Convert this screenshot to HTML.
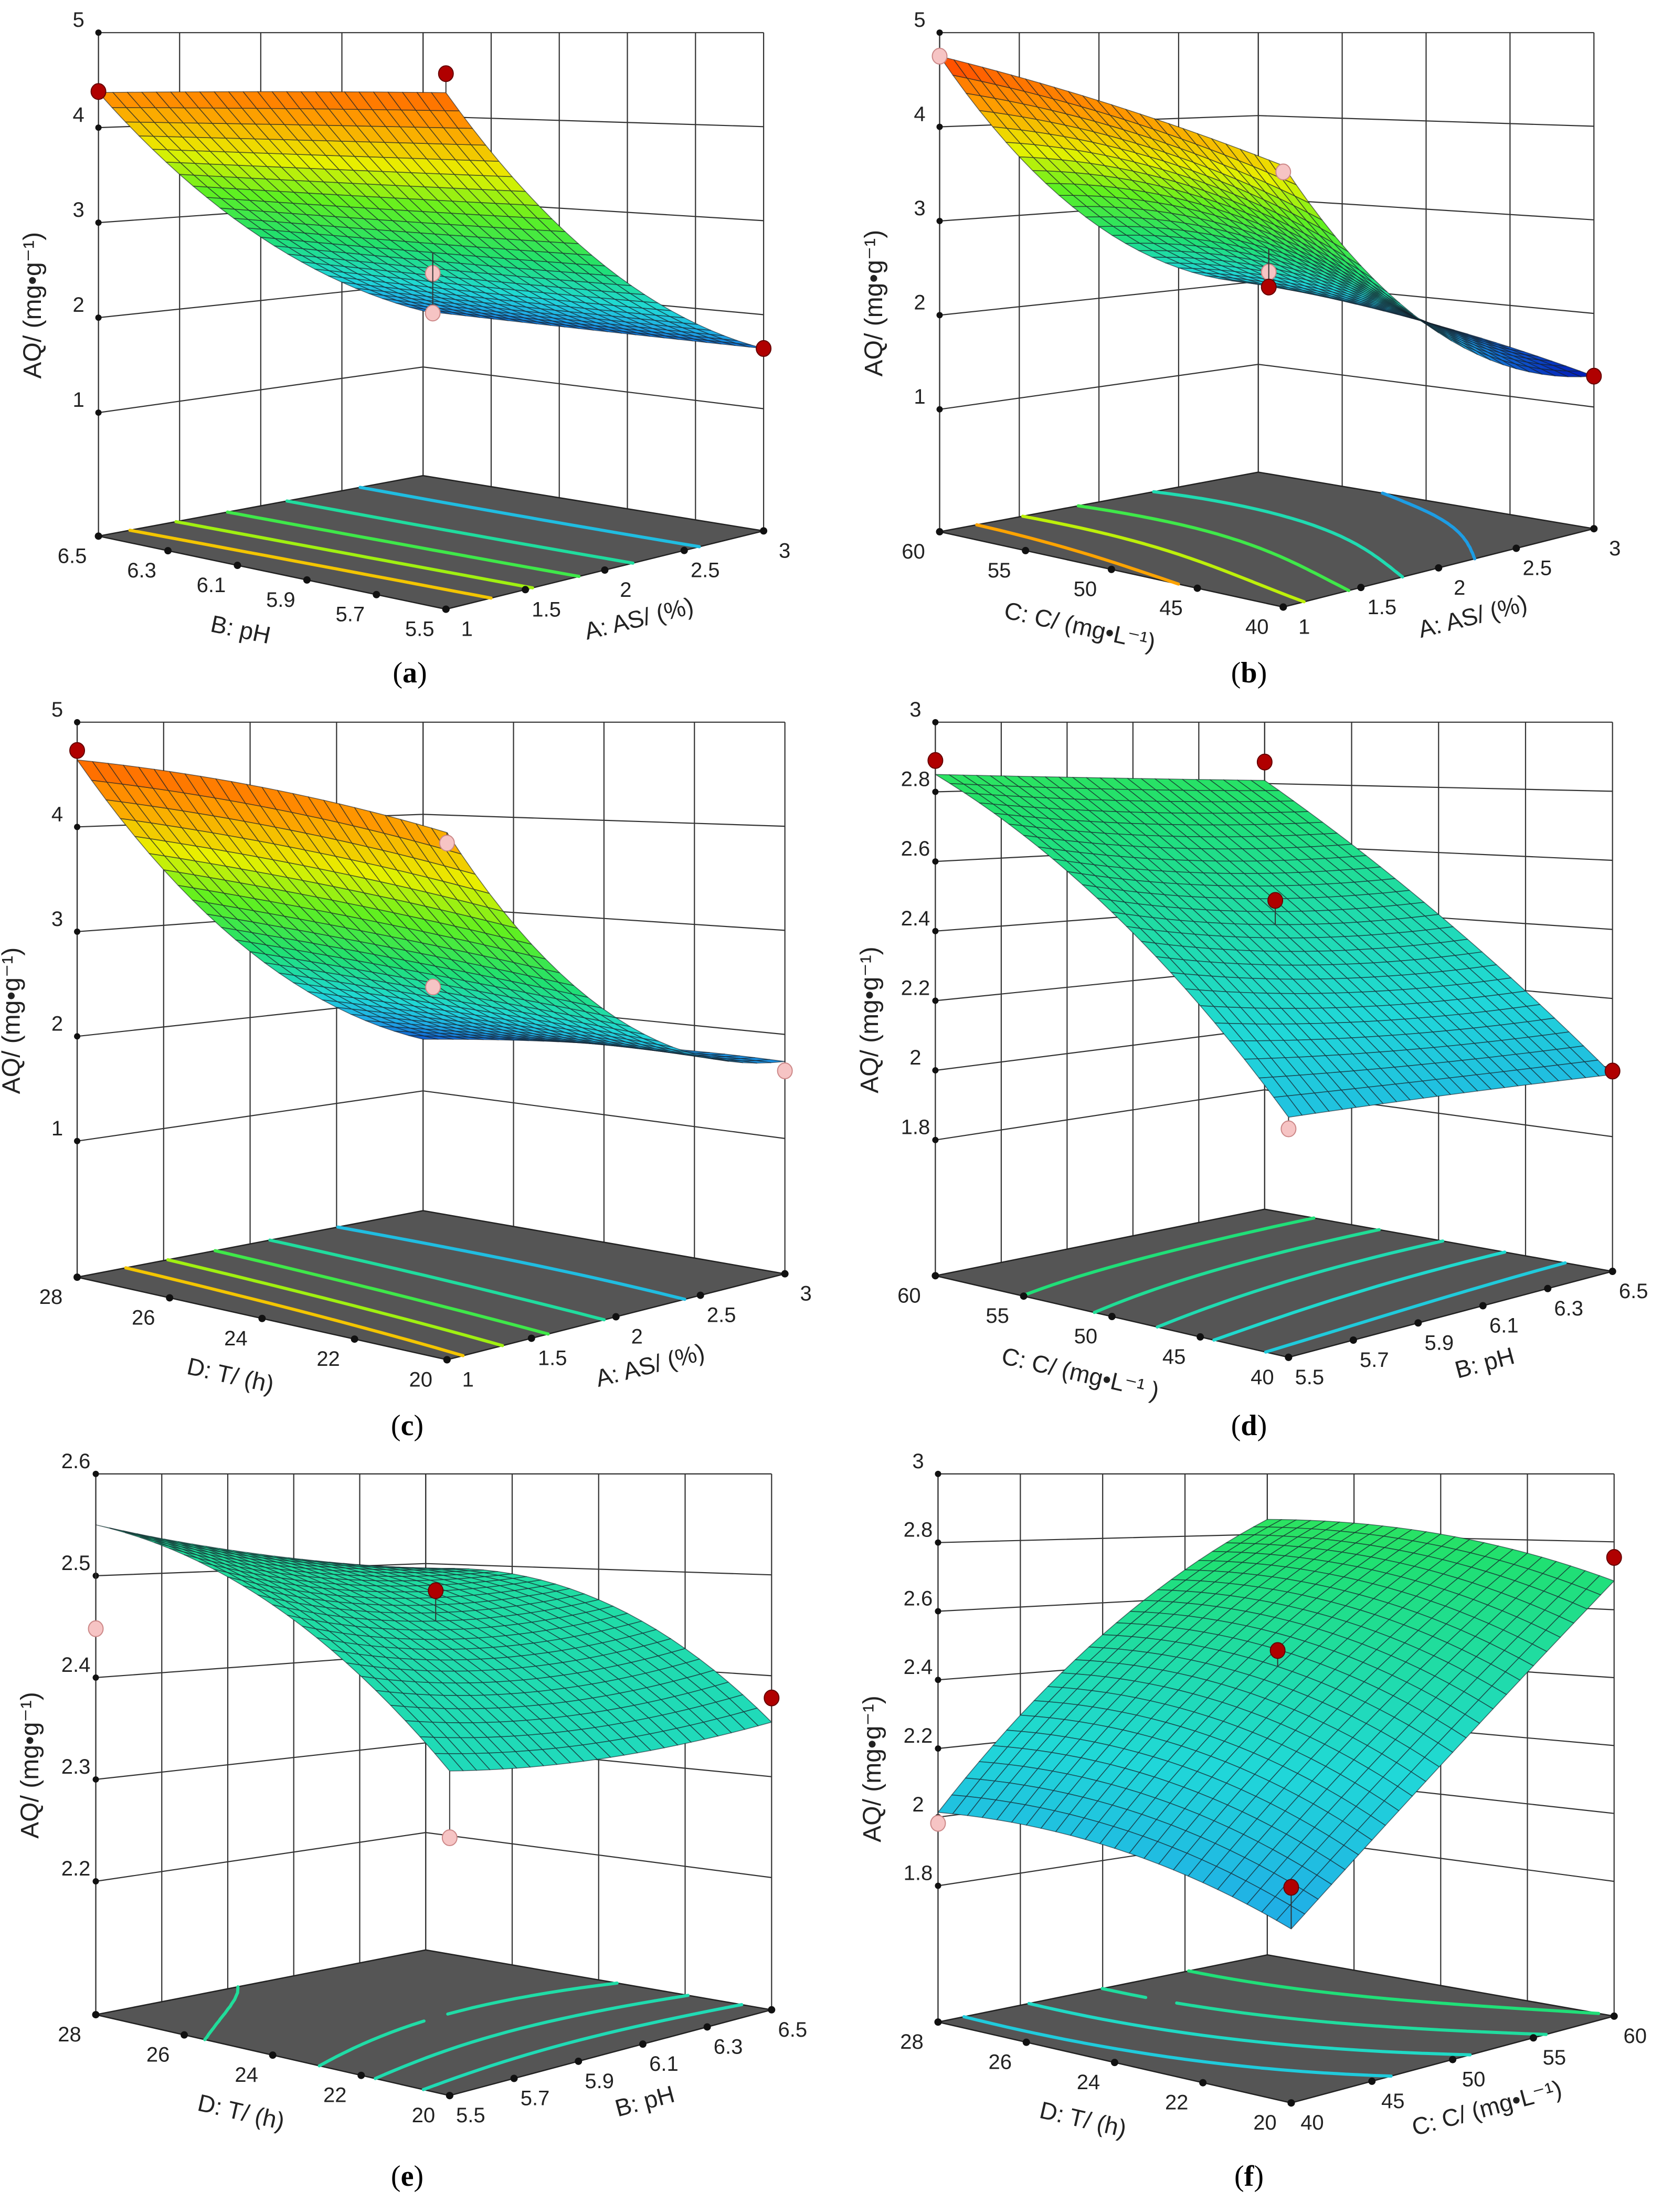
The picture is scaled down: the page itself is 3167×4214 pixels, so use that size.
<!DOCTYPE html>
<html><head><meta charset="utf-8"><style>
html,body{margin:0;padding:0;background:#fff;}
svg{display:block;}
text{font-family:"Liberation Sans",sans-serif;fill:#222;}
.cap{font-family:"Liberation Serif",serif;font-size:56px;fill:#000;}
</style></head><body>
<svg id="chart" width="3167" height="4214" viewBox="0 0 3167 4214" xmlns="http://www.w3.org/2000/svg">
<rect x="0" y="0" width="3167" height="4214" fill="#fff"/>
</svg>
<script>
// ---------- DATA (per panel) ----------
// panel a: A (AS %) vs B (pH)
const aU=[1,1.5,2,2.5,3]; const aV=[5.5,5.7,5.9,6.1,6.3,6.5]; const aZt=[1,2,3,4,5];
const aGrid=[[4.6,4.5,4.37],[2.75,2.72,2.71],[1.64,1.65,1.67]];
const aDots=[[1,6.5,4.38,'r'],[1,5.5,4.78,'r'],[2,6,2.5,'p'],[2,6,2.08,'p'],[3,5.5,1.64,'r']];
const aLevels=[2.0,2.5,3.0,3.5,4.0];
// panel b: A vs C
const bU=[1,1.5,2,2.5,3]; const bV=[40,45,50,55,60]; const bZt=[1,2,3,4,5];
const bGrid=[[3.91,4.37,4.75],[2.07,2.75,2.81],[1.33,1.72,1.98]];
const bDots=[[1,60,4.75,'p'],[1,40,3.85,'p'],[2,50,2.5,'p'],[2,50,2.34,'r'],[3,40,1.33,'r']];
const bLevels=[1.8,2.4,3.0,3.6,4.2];
// panel c: A vs D
const cU=[1,1.5,2,2.5,3]; const cV=[20,22,24,26,28]; const cZt=[1,2,3,4,5];
const cGrid=[[4.22,4.5,4.64],[2.41,2.55,2.67],[1.74,1.72,1.56]];
const cDots=[[1,28,4.73,'r'],[1,20,4.13,'p'],[2,24,2.51,'p'],[3,20,1.65,'p']];
const cLevels=[2.0,2.5,3.0,3.5,4.0];
// panel d: B vs C
const dU=[5.5,5.7,5.9,6.1,6.3,6.5]; const dV=[40,45,50,55,60]; const dZt=[1.8,2,2.2,2.4,2.6,2.8,3];
const dGrid=[[2.03,2.51,2.85],[2.01,2.43,2.83],[1.98,2.41,2.81]];
const dDots=[[5.5,60,2.89,'r'],[6.5,60,2.87,'r'],[6,50,2.5,'r'],[5.5,40,2.0,'p'],[6.5,40,1.99,'r']];
const dLevels=[2.1,2.25,2.4,2.55,2.7];
// panel e: B vs D
const eU=[5.5,5.7,5.9,6.1,6.3,6.5]; const eV=[20,22,24,26,28]; const eZt=[2.2,2.3,2.4,2.5,2.6];
const eGrid=[[2.356,2.488,2.55],[2.345,2.46,2.516],[2.354,2.468,2.494]];
const eDots=[[5.5,28,2.448,'p'],[6,24,2.49,'r'],[6.5,20,2.378,'r'],[5.5,20,2.297,'p']];
const eLevels=[2.38,2.42,2.46,2.52];
// panel f: C vs D
const fU=[40,45,50,55,60]; const fV=[20,22,24,26,28]; const fZt=[1.8,2,2.2,2.4,2.6,2.8,3];
const fGrid=[[1.859,1.994,2.014],[2.255,2.45,2.501],[2.685,2.812,2.849]];
const fDots=[[40,28,1.982,'p'],[50,24,2.497,'r'],[40,20,1.968,'r'],[60,20,2.754,'r']];
const fLevels=[2.1,2.3,2.5,2.7];

// ---------- GEOMETRY (layout only) ----------
const panels=[
 {id:'a',off:[0,0],s:[1.014,0.829],F:[838,1400],L:[185,1232],R:[1435,1220],B:[795,1093],top:75,zf:-0.3,zt:5,
  U:aU,V:aV,Z:aZt,G:aGrid,D:aDots,LV:aLevels,uT:'A: AS/ (%)',vT:'B: pH',cap:[781,1282]},
 {id:'b',off:[1580,0],s:[1.012,0.829],F:[855,1395],L:[208,1222],R:[1440,1215],B:[808,1085],top:75,zf:-0.3,zt:5,
  U:bU,V:bV,Z:bZt,G:bGrid,D:bDots,LV:bLevels,uT:'A: AS/ (%)',vT:'C: C/ (mg\u2022L\u207B\u00B9)',cap:[2380,1282]},
 {id:'c',off:[0,1300],s:[1.014,0.925],F:[840,1395],L:[145,1225],R:[1475,1218],B:[795,1088],top:82,zf:-0.3,zt:5,
  U:cU,V:cV,Z:cZt,G:cGrid,D:cDots,LV:cLevels,uT:'A: AS/ (%)',vT:'D: T/ (h)',cap:[776,2716]},
 {id:'d',off:[1580,1300],s:[1.012,0.925],F:[865,1390],L:[200,1222],R:[1475,1213],B:[820,1085],top:82,zf:1.41,zt:3,
  U:dU,V:dV,Z:dZt,G:dGrid,D:dDots,LV:dLevels,uT:'B: pH',vT:'C: C/ (mg\u2022L\u207B\u00B9 )',cap:[2380,2716]},
 {id:'e',off:[0,2750],s:[1.014,0.934],F:[845,1330],L:[180,1165],R:[1450,1155],B:[800,1033],top:62,zf:2.069,zt:2.6,
  U:eU,V:eV,Z:eZt,G:eGrid,D:eDots,LV:eLevels,uT:'B: pH',vT:'D: T/ (h)',cap:[776,4146]},
 {id:'f',off:[1580,2750],s:[1.012,0.934],F:[870,1345],L:[205,1180],R:[1478,1168],B:[825,1043],top:62,zf:1.403,zt:3,
  U:fU,V:fV,Z:fZt,G:fGrid,D:fDots,LV:fLevels,uT:'C: C/ (mg\u2022L\u207B\u00B9)',vT:'D: T/ (h)',cap:[2380,4146]}
];

const NS='http://www.w3.org/2000/svg';
const svg=document.getElementById('chart');
function el(tag,attrs,parent){const e=document.createElementNS(NS,tag);for(const k in attrs)e.setAttribute(k,attrs[k]);(parent||svg).appendChild(e);return e;}
const stops=[[0,[0,16,176]],[0.08,[16,96,208]],[0.15,[32,168,232]],[0.25,[32,216,216]],[0.4,[32,224,112]],[0.55,[96,240,32]],[0.68,[232,240,0]],[0.82,[255,154,0]],[0.9,[255,112,0]],[1,[255,0,0]]];
function cmap(z){let t=(z-1.3)/(4.9-1.3);t=Math.max(0,Math.min(1,t));
 for(let i=1;i<stops.length;i++){if(t<=stops[i][0]){const a=stops[i-1],b=stops[i];const f=(t-a[0])/(b[0]-a[0]);
  const c=a[1].map((x,k)=>Math.round(x+(b[1][k]-x)*f));return 'rgb('+c.join(',')+')';}}return 'rgb(255,0,0)';}
function lag(t){return [2*(t-0.5)*(t-1),-4*t*(t-1),2*t*(t-0.5)];}
function surf(G,u,v){const a=lag(u),b=lag(v);let s=0;for(let i=0;i<3;i++)for(let j=0;j<3;j++)s+=a[i]*b[j]*G[i][j];return s;}
function pts(arr){return arr.map(p=>p[0].toFixed(1)+','+p[1].toFixed(1)).join(' ');}

panels.forEach(cfg=>{
 const g=el('g',{});
 
 
 const c=p=>[cfg.off[0]+p[0]*cfg.s[0],cfg.off[1]+p[1]*cfg.s[1]];
 const F=c(cfg.F),L=c(cfg.L),R=c(cfg.R),B=c(cfg.B);const topY=cfg.off[1]+cfg.top*cfg.s[1];
 const hL=L[1]-topY,hR=R[1]-topY,hB=B[1]-topY,hF=hL+hR-hB;
 const P=(u,v,z)=>{const w=[(1-u)*(1-v),u*(1-v),(1-u)*v,u*v];
  const x=w[0]*F[0]+w[1]*R[0]+w[2]*L[0]+w[3]*B[0];const fy=w[0]*F[1]+w[1]*R[1]+w[2]*L[1]+w[3]*B[1];
  const h=w[0]*hF+w[1]*hR+w[2]*hL+w[3]*hB;return [x,fy-(z-cfg.zf)/(cfg.zt-cfg.zf)*h];};
 const U=cfg.U,V=cfg.V;
 const su=x=>(x-U[0])/(U[U.length-1]-U[0]);const sv=x=>(x-V[0])/(V[V.length-1]-V[0]);
 const lineStyle={stroke:'#333','stroke-width':2.2,fill:'none'};
 // walls
 const walls=el('g',{},g);
 U.forEach(t=>{const a=P(su(t),1,cfg.zf),b=P(su(t),1,cfg.zt);const l=el('line',Object.assign({x1:a[0],y1:a[1],x2:b[0],y2:b[1]},lineStyle),walls);
  });
 V.forEach(t=>{const a=P(1,sv(t),cfg.zf),b=P(1,sv(t),cfg.zt);const l=el('line',Object.assign({x1:a[0],y1:a[1],x2:b[0],y2:b[1]},lineStyle),walls);
  });
 cfg.Z.forEach(z=>{const l=el('polyline',Object.assign({points:pts([P(0,1,z),P(1,1,z),P(1,0,z)])},lineStyle),walls);
  });
 const ax=el('line',Object.assign({x1:P(0,1,cfg.zf)[0],y1:P(0,1,cfg.zf)[1],x2:P(0,1,cfg.zt)[0],y2:P(0,1,cfg.zt)[1]},lineStyle),walls);
 
 // z ticks
 cfg.Z.forEach(z=>{const p=P(0,1,z);const d=el('circle',{cx:p[0],cy:p[1],r:6,fill:'#111'},g);
  
  const t=el('text',{x:p[0]-38,y:p[1]-24,'font-size':40,'text-anchor':'middle','dominant-baseline':'central'},g);t.textContent=String(z);
  });
 const zm=P(0,1,(cfg.zf+cfg.zt)/2);
 const zt=el('text',{x:zm[0]-125,y:zm[1]+40,'font-size':48,'text-anchor':'middle','dominant-baseline':'central',transform:'rotate(-90 '+(zm[0]-125)+' '+(zm[1]+40)+')'},g);
 zt.textContent='AQ/ (mg\u2022g\u207B\u00B9)';
 // floor
 const fl=el('polygon',{points:pts([P(0,0,cfg.zf),P(1,0,cfg.zf),P(1,1,cfg.zf),P(0,1,cfg.zf)]),fill:'#555',stroke:'#222','stroke-width':2.5},g);
 
 // contours
 const N=24;const grid=[];for(let i=0;i<=N;i++){grid.push([]);for(let j=0;j<=N;j++)grid[i].push(surf(cfg.G,i/N,j/N));}
 cfg.LV.forEach(lv=>{let d='';
  for(let i=0;i<N;i++)for(let j=0;j<N;j++){const cs=[[i,j],[i+1,j],[i+1,j+1],[i,j+1]];const ps=[];
   for(let k=0;k<4;k++){const a=cs[k],b=cs[(k+1)%4];const za=grid[a[0]][a[1]],zb=grid[b[0]][b[1]];
    if((za-lv)*(zb-lv)<0){const f=(lv-za)/(zb-za);ps.push(P((a[0]+(b[0]-a[0])*f)/N,(a[1]+(b[1]-a[1])*f)/N,cfg.zf));}}
   for(let k=0;k+1<ps.length;k+=2)d+='M'+ps[k][0].toFixed(1)+' '+ps[k][1].toFixed(1)+'L'+ps[k+1][0].toFixed(1)+' '+ps[k+1][1].toFixed(1);}
  const cl=el('path',{d:d,stroke:cmap(lv),'stroke-width':6,fill:'none','stroke-linecap':'round'},g);
  });
 // floor ticks
 V.forEach(t=>{const p=P(0,sv(t),cfg.zf);const d=el('circle',{cx:p[0],cy:p[1],r:7,fill:'#111'},g);
  
  const tx=el('text',{x:p[0]-50,y:p[1]+38,'font-size':40,'text-anchor':'middle','dominant-baseline':'central'},g);tx.textContent=String(t);
  });
 U.forEach(t=>{const p=P(su(t),0,cfg.zf);const d=el('circle',{cx:p[0],cy:p[1],r:7,fill:'#111'},g);
  
  const tx=el('text',{x:p[0]+40,y:p[1]+38,'font-size':40,'text-anchor':'middle','dominant-baseline':'central'},g);tx.textContent=String(t);
  });
 const angV=Math.atan2(F[1]-L[1],F[0]-L[0])*180/Math.PI;const angU=Math.atan2(R[1]-F[1],R[0]-F[0])*180/Math.PI;
 const mv=[(F[0]+L[0])/2-60,(F[1]+L[1])/2+108];const mu=[(F[0]+R[0])/2+65,(F[1]+R[1])/2+92];
 const tv=el('text',{x:mv[0],y:mv[1],'font-size':46,'text-anchor':'middle','dominant-baseline':'central',transform:'rotate('+angV.toFixed(1)+' '+mv[0]+' '+mv[1]+')'},g);
 tv.textContent=cfg.vT;
 const tu=el('text',{x:mu[0],y:mu[1],'font-size':46,'text-anchor':'middle','dominant-baseline':'central',transform:'rotate('+angU.toFixed(1)+' '+mu[0]+' '+mu[1]+')'},g);
 tu.textContent=cfg.uT;
 // surface
 const sg=el('g',{},g);
 for(let s=2*N-2;s>=0;s--){for(let i=0;i<N;i++){const j=s-i;if(j<0||j>=N)continue;
  const q=[P(i/N,j/N,grid[i][j]),P((i+1)/N,j/N,grid[i+1][j]),P((i+1)/N,(j+1)/N,grid[i+1][j+1]),P(i/N,(j+1)/N,grid[i][j+1])];
  const zc=(grid[i][j]+grid[i+1][j]+grid[i+1][j+1]+grid[i][j+1])/4;
  const pg=el('polygon',{points:pts(q),fill:cmap(zc),stroke:'rgba(20,30,40,0.6)','stroke-width':1.6,'stroke-linejoin':'round'},sg);
  }}
 // design points
 cfg.D.forEach(dp=>{const u=su(dp[0]),v=sv(dp[1]);const zs=surf(cfg.G,u,v);const a=P(u,v,zs),b=P(u,v,dp[2]);
  const ln=el('line',{x1:a[0],y1:a[1],x2:b[0],y2:b[1],stroke:'#333','stroke-width':2},g);
  
  const ci=el('ellipse',{cx:b[0],cy:b[1],rx:14,ry:15,fill:dp[3]==='r'?'#b00000':'#f6c4c4',stroke:dp[3]==='r'?'#600':'#c88','stroke-width':2},g);
  });
 // caption
 const cp=el('text',{x:cfg.cap[0],y:cfg.cap[1],'text-anchor':'middle','dominant-baseline':'central',class:'cap'},svg);
 
 cp.appendChild(document.createTextNode('('));
 const b=el('tspan',{'font-weight':'bold'},cp);b.textContent=cfg.id;
 cp.appendChild(document.createTextNode(')'));
});
</script>
</body></html>
